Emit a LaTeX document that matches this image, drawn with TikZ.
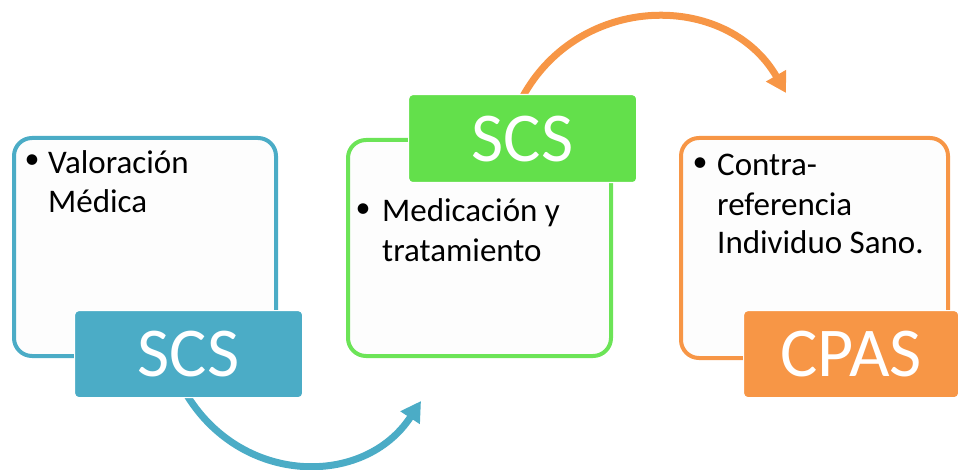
\documentclass[tikz,border=0pt]{standalone}
\usepackage{fontspec}
\setmainfont{Carlito}
\usetikzlibrary{arrows.meta}
\definecolor{cblue}{HTML}{4BACC6}
\definecolor{cgreen}{HTML}{63E04B}
\definecolor{cgreenl}{HTML}{6CE457}
\definecolor{corange}{HTML}{F79646}
\definecolor{cpaper}{HTML}{FDFDFD}
\tikzset{
  panel/.style={draw=#1, line width=4pt, fill=cpaper, rounded corners=18pt,
    anchor=north west, inner sep=0pt},
  tag/.style={fill=#1, draw=white, line width=1.2pt, rounded corners=4pt,
    anchor=north west, inner sep=0pt, text=white,
    font=\fontsize{70}{70}\selectfont},
  bodytext/.style={anchor=base west, align=left, inner sep=0pt,
    font=\fontsize{33}{39}\selectfont},
  bul/.style={inner sep=0pt, font=\fontsize{30}{30}\selectfont},
  flow/.style={draw=#1, line width=7pt,
    -{Triangle[length=20pt,width=22pt]}}
}
\begin{document}
\begin{tikzpicture}[x=1pt,y=-1pt]
\useasboundingbox (0,0) rectangle (960,470);

% curved connectors (drawn first, so the tags cover their starts)
\coordinate (s1) at (185,392);
\coordinate (e1) at (421,401);
\coordinate (s2) at (522,98);
\coordinate (e2) at (786,93);
\draw[flow=cblue] (s1) .. controls (240,486) and (364,488) .. (e1);
\draw[flow=corange] (s2) .. controls (579,-8) and (727,-9) .. (e2);

% outlined panels
\node[panel=cblue, minimum width=262pt, minimum height=218pt] (p1) at (12,136) {};
\node[panel=cgreenl, minimum width=263pt, minimum height=216pt] (p2) at (346,138) {};
\node[panel=corange, minimum width=267pt, minimum height=220pt] (p3) at (679,136) {};

% bullet texts
\node[bul] (b1) at (32,162) {•};
\node[bodytext] (t1) at (48,174) {Valoración};
\node[bodytext] (t1b) at (48,213) {Médica};

\node[bul] (b2) at (363,211) {•};
\node[bodytext] (t2) at (382,222) {Medicación y};
\node[bodytext] (t2b) at (382,261) {tratamiento};

\node[bul] (b3) at (700,165) {•};
\node[bodytext] (t3) at (717,176) {Contra-};
\node[bodytext] (t3b) at (717,215) {referencia};
\node[bodytext] (t3c) at (717,254) {Individuo Sano.};

% filled tags
\node[tag=cblue, minimum width=228pt, minimum height=87pt] (l1) at (74,310) {SCS};
\node[tag=cgreen, minimum width=228pt, minimum height=88pt] (l2) at (408,94) {SCS};
\node[tag=corange, minimum width=215pt, minimum height=87pt] (l3) at (743,310) {CPAS};
\end{tikzpicture}
\end{document}
